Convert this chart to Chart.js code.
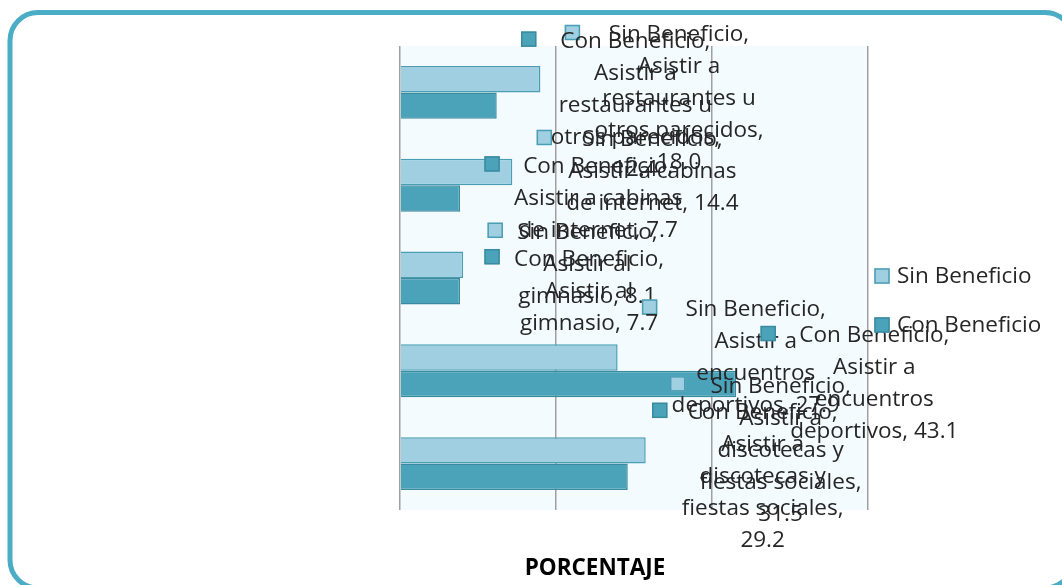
<!DOCTYPE html>
<html>
<head>
<meta charset="utf-8">
<script src="https://cdn.jsdelivr.net/npm/chart.js@4.4.0/dist/chart.umd.min.js"></script>
<style>
html,body{margin:0;padding:0;background:#ffffff;}
#wrap{width:1062px;height:585px;position:relative;overflow:hidden;}
</style>
</head>
<body>
<div id="wrap"><canvas id="c" width="1062" height="585"></canvas></div>
<script>
// ---- data ----
const categories = [
  "Asistir a restaurantes u otros parecidos",
  "Asistir a cabinas de internet",
  "Asistir al gimnasio",
  "Asistir a encuentros deportivos",
  "Asistir a discotecas y fiestas sociales"
];
const seriesNames = ["Sin Beneficio", "Con Beneficio"];
const sinBeneficio = [18.0, 14.4, 8.1, 27.9, 31.5];
const conBeneficio = [12.4, 7.7, 7.7, 43.1, 29.2];
const xTicks = [0, 20, 40, 60];
const xTitle = 'PORCENTAJE';
// wrapped text of the data labels ({v} = value)
const labelLines = [
  ["Asistir a", "restaurantes u", "otros parecidos,", "{v}"],
  ["Asistir a cabinas", "de internet, {v}"],
  ["Asistir al", "gimnasio, {v}"],
  ["Asistir a", "encuentros", "deportivos, {v}"],
  ["Asistir a", "discotecas y", "fiestas sociales,", "{v}"]
];

const LABEL_FONT = '22.5px "Open Sans"';
const TITLE_FONT = 'bold 22.5px "Open Sans"';
const TEXT_COLOR = '#262626';

function roundRectPath(ctx, x, y, w, h, r) {
  ctx.beginPath();
  ctx.moveTo(x + r, y);
  ctx.lineTo(x + w - r, y);
  ctx.arcTo(x + w, y, x + w, y + r, r);
  ctx.lineTo(x + w, y + h - r);
  ctx.arcTo(x + w, y + h, x + w - r, y + h, r);
  ctx.lineTo(x + r, y + h);
  ctx.arcTo(x, y + h, x, y + h - r, r);
  ctx.lineTo(x, y + r);
  ctx.arcTo(x, y, x + r, y, r);
  ctx.closePath();
}

function drawKey(ctx, ds, cx, cy) {
  ctx.fillStyle = ds.backgroundColor;
  ctx.fillRect(cx - 7.5, cy - 7.5, 15, 15);
  ctx.strokeStyle = ds.borderColor;
  ctx.lineWidth = 1.5;
  ctx.strokeRect(cx - 7, cy - 7, 14, 14);
}

const decor = {
  id: 'decor',
  beforeDraw(chart) {
    const {ctx, chartArea: a} = chart;
    ctx.save();
    ctx.fillStyle = '#f3fbfe';
    ctx.fillRect(a.left, a.top, a.right - a.left, a.bottom - a.top);
    ctx.restore();
  },
  afterDraw(chart) {
    const {ctx, chartArea: a} = chart;
    ctx.save();
    // frame
    ctx.strokeStyle = '#4bacc6';
    ctx.lineWidth = 5;
    roundRectPath(ctx, 10, 12.5, 1063, 575.5, 28);
    ctx.stroke();

    // axis title (sits left of the plot centre in the original)
    ctx.font = TITLE_FONT;
    ctx.fillStyle = '#000000';
    ctx.textAlign = 'center';
    ctx.textBaseline = 'middle';
    ctx.fillText(xTitle, a.left + 195, a.bottom + 59);

    // data labels
    ctx.font = LABEL_FONT;
    chart.data.datasets.forEach((ds, di) => {
      const meta = chart.getDatasetMeta(di);
      meta.data.forEach((bar, j) => {
        const v = Number(ds.data[j]).toFixed(1);
        const lines = [ds.label + ','].concat(labelLines[j].map(s => s.replace('{v}', v)));
        const n = lines.length;
        let y0 = bar.y - (n - 1) * 16;
        if (y0 < a.top - 11) y0 = a.top - 11;
        const kx = bar.x + 32;
        const maxW = Math.max(...lines.map(l => ctx.measureText(l).width));
        const cx = kx + 22 + maxW / 2;
        drawKey(ctx, ds, kx, y0 - 2.5);
        ctx.fillStyle = TEXT_COLOR;
        lines.forEach((l, k) => ctx.fillText(l, cx, y0 + k * 32));
      });
    });

    // legend
    ctx.textAlign = 'left';
    chart.data.datasets.forEach((ds, di) => {
      const ky = a.top + 230 + di * 49;
      const kx = a.right + 14;
      drawKey(ctx, ds, kx, ky);
      ctx.fillStyle = TEXT_COLOR;
      ctx.fillText(ds.label, kx + 15, ky + 1);
    });
    ctx.restore();
  }
};

new Chart(document.getElementById('c'), {
  type: 'bar',
  data: {
    labels: categories,
    datasets: [
      {
        label: seriesNames[0],
        data: sinBeneficio,
        backgroundColor: '#9fcfe0',
        borderColor: '#4a9db3',
        borderWidth: 1.5,
        categoryPercentage: 0.57,
        barPercentage: 1.0
      },
      {
        label: seriesNames[1],
        data: conBeneficio,
        backgroundColor: '#4ba3b9',
        borderColor: '#3a8aa0',
        borderWidth: 1.5,
        categoryPercentage: 0.57,
        barPercentage: 1.0
      }
    ]
  },
  options: {
    indexAxis: 'y',
    responsive: false,
    animation: false,
    layout: { padding: { left: 400, right: 194, top: 46, bottom: 75 } },
    plugins: {
      legend: { display: false },
      tooltip: { enabled: false }
    },
    scales: {
      x: {
        type: 'linear',
        min: xTicks[0],
        max: xTicks[xTicks.length - 1],
        afterBuildTicks: (s) => { s.ticks = xTicks.map(v => ({ value: v })); },
        ticks: { display: false },
        grid: { color: '#a0a0a0', lineWidth: 1.5, drawTicks: false },
        border: { display: false },
        title: { display: false }
      },
      y: { display: false }
    }
  },
  plugins: [decor]
});
</script>
</body>
</html>
